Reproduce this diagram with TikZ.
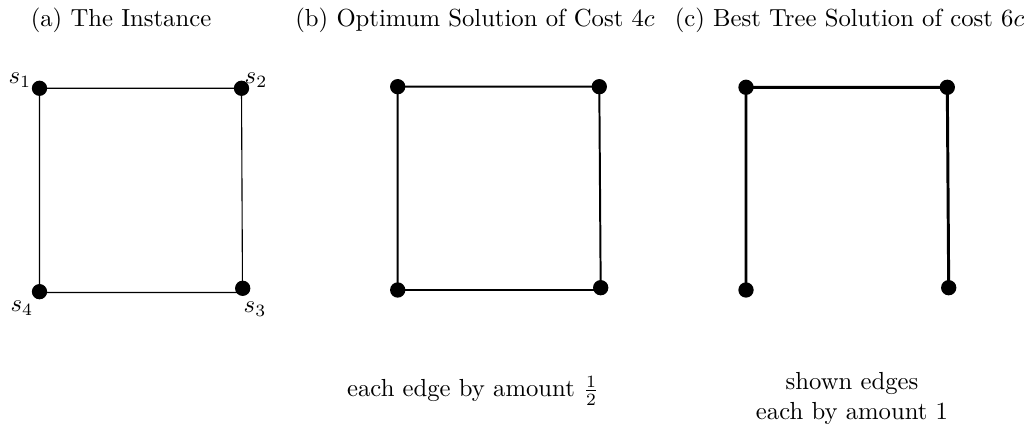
\documentclass[tikz,border=0pt]{standalone}
\begin{document}
\begin{tikzpicture}[x=0.405pt,y=-0.405pt,
  vtx/.style={circle,fill=black,inner sep=0pt,minimum size=6.2pt},
  thinedge/.style={line width=0.45pt},
  halfedge/.style={line width=0.8pt},
  fulledge/.style={line width=1.2pt},
  lbl/.style={inner sep=0pt}]
\useasboundingbox (0,0) rectangle (1033,440);
% titles
\node[anchor=base] (ta) at (121,27) {(a) The Instance};
\node[anchor=base] (tb) at (475,27) {(b) Optimum Solution of Cost $4c$};
\node[anchor=base] (tc) at (849.5,27) {(c) Best Tree Solution of cost $6c$};
% panel a
\coordinate (ka1) at (39.5,88.3);
\coordinate (ka2) at (241.5,88.3);
\coordinate (ka3) at (242.5,292.5);
\coordinate (ka4) at (39.5,292.5);
\draw[thinedge] (ka1) -- (ka2) -- (ka3) -- (ka4) -- cycle;
\node[vtx] (a1) at (39.5,88.3) {};
\node[vtx] (a2) at (241.5,88.3) {};
\node[vtx] (a3) at (242.7,288.3) {};
\node[vtx] (a4) at (39.5,291.7) {};
\node[lbl] (l1) at (20,80) {$s_1$};
\node[lbl] (l2) at (256,80) {$s_2$};
\node[lbl] (l3) at (255,309) {$s_3$};
\node[lbl] (l4) at (22,308) {$s_4$};
% panel b
\coordinate (kb1) at (397.7,86.7);
\coordinate (kb2) at (599.3,86.7);
\coordinate (kb3) at (600.7,290);
\coordinate (kb4) at (397.7,290);
\draw[halfedge] (kb1) -- (kb2) -- (kb3) -- (kb4) -- cycle;
\node[vtx] (b1) at (397.7,86.7) {};
\node[vtx] (b2) at (599.3,86.7) {};
\node[vtx] (b3) at (600.7,287.7) {};
\node[vtx] (b4) at (397.7,290) {};
% panel c
\node[vtx] (c1) at (746,87.3) {};
\node[vtx] (c2) at (947.3,87.3) {};
\node[vtx] (c3) at (948.7,287.7) {};
\node[vtx] (c4) at (746,290) {};
\draw[fulledge] (c4.center) -- (c1.center) -- (c2.center) -- (c3.center);
% captions
\node[anchor=base] (cb) at (473,397) {each edge by amount $\frac{1}{2}$};
\node[anchor=base] (cc1) at (852,390) {shown edges};
\node[anchor=base] (cc2) at (852,420) {each by amount 1};
\end{tikzpicture}
\end{document}
